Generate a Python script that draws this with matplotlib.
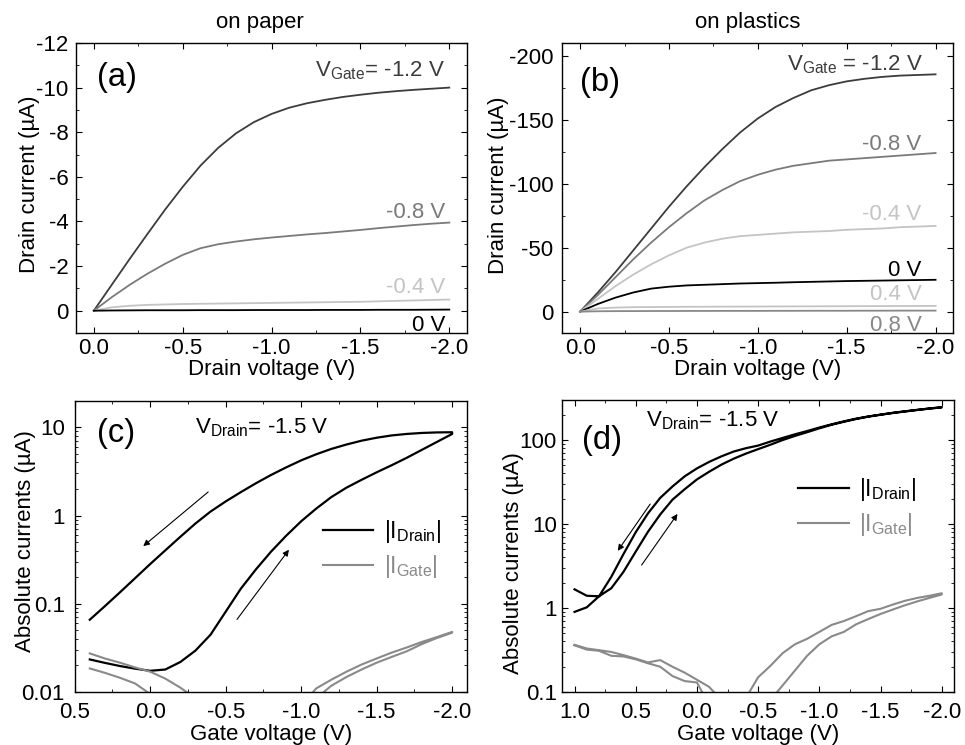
import matplotlib
matplotlib.use("Agg")
import matplotlib.pyplot as plt
from matplotlib.ticker import MultipleLocator, FormatStrFormatter, FuncFormatter, LogLocator

plt.rcParams.update({
    "font.family": ["Liberation Sans", "DejaVu Sans"],
    "mathtext.fontset": "custom",
    "mathtext.rm": "Liberation Sans",
    "mathtext.it": "Liberation Sans",
    "mathtext.default": "regular",
    "axes.unicode_minus": False,
    "axes.linewidth": 1.0,
    "xtick.direction": "in", "ytick.direction": "in",
    "xtick.top": True, "ytick.right": True,
    "xtick.major.size": 4, "ytick.major.size": 4,
    "xtick.minor.size": 2.2, "ytick.minor.size": 2.2,
    "xtick.labelsize": 16, "ytick.labelsize": 16,
    "axes.labelsize": 16,
})

# ---------------- output curves (a: paper, b: plastics) ----------------
v_drain = [0.0, -0.1, -0.2, -0.3, -0.4, -0.5, -0.6, -0.7, -0.8, -0.9, -1.0,
           -1.1, -1.2, -1.3, -1.4, -1.5, -1.6, -1.7, -1.8, -1.9, -2.0]

# panel (a), drain current in uA
ia_vg_m12 = [0, -1.15, -2.3, -3.42, -4.52, -5.55, -6.5, -7.3, -7.95, -8.45, -8.82,
             -9.1, -9.3, -9.45, -9.58, -9.68, -9.77, -9.84, -9.9, -9.95, -10.0]
ia_vg_m08 = [0, -0.6, -1.15, -1.65, -2.1, -2.5, -2.8, -2.98, -3.1, -3.2, -3.28,
             -3.35, -3.42, -3.48, -3.55, -3.62, -3.7, -3.77, -3.84, -3.9, -3.95]
ia_vg_m04 = [0, -0.15, -0.22, -0.26, -0.28, -0.3, -0.31, -0.32, -0.33, -0.34, -0.35,
             -0.36, -0.37, -0.38, -0.39, -0.4, -0.42, -0.44, -0.46, -0.48, -0.5]
ia_vg_0 = [0, -0.01, -0.015, -0.02, -0.02, -0.02, -0.025, -0.025, -0.025, -0.03, -0.03,
           -0.03, -0.03, -0.035, -0.035, -0.035, -0.04, -0.04, -0.04, -0.045, -0.05]

# panel (b)
ib_vg_m12 = [0, -15, -31, -48, -65, -82, -98, -113, -127, -140, -151,
             -160, -167, -173, -177, -180, -182, -183.5, -184.5, -185, -185.5]
ib_vg_m08 = [0, -13, -27, -41, -54, -66, -77, -87, -95, -102, -107,
             -111, -114, -116, -118, -119, -120, -121, -122, -123, -124]
ib_vg_m04 = [0, -10, -20, -29, -37, -44, -50, -54, -57, -59, -60,
             -61, -62, -62.5, -63, -64, -64.5, -65, -66, -66.5, -67]
ib_vg_0 = [0, -6, -11, -15, -18, -19.5, -20.5, -21, -21.5, -22, -22.3,
           -22.6, -23, -23.3, -23.6, -23.9, -24.1, -24.3, -24.5, -24.7, -24.9]
ib_vg_p04 = [0, -2.5, -3.2, -3.5, -3.6, -3.7, -3.8, -3.85, -3.9, -3.95, -4.0,
             -4.05, -4.1, -4.15, -4.2, -4.25, -4.3, -4.35, -4.4, -4.45, -4.5]
ib_vg_p08 = [0, -0.3, -0.4, -0.45, -0.5, -0.5, -0.55, -0.55, -0.6, -0.6, -0.6,
             -0.65, -0.65, -0.7, -0.7, -0.7, -0.75, -0.75, -0.8, -0.8, -0.8]

# ---------------- transfer curves (c: paper, d: plastics) ----------------
vg_c = [0.4, 0.3, 0.2, 0.1, 0.0, -0.1, -0.2, -0.3, -0.4, -0.5, -0.6, -0.7, -0.8,
        -0.9, -1.0, -1.1, -1.2, -1.3, -1.4, -1.5, -1.6, -1.7, -1.8, -1.9, -2.0]
id_c_fwd = [0.0234, 0.0214, 0.0197, 0.0184, 0.0174, 0.018, 0.0219, 0.0295, 0.0447,
            0.0813, 0.148, 0.245, 0.389, 0.589, 0.861, 1.2, 1.62, 2.07, 2.54, 3.09,
            3.72, 4.52, 5.56, 6.84, 8.41]
id_c_rev = [0.066, 0.094, 0.135, 0.195, 0.282, 0.403, 0.575, 0.813, 1.11, 1.445,
            1.84, 2.32, 2.88, 3.51, 4.22, 4.95, 5.69, 6.38, 7.05, 7.62, 8.09, 8.41,
            8.63, 8.75, 8.79]
ig_c_fwd = [0.0274, 0.024, 0.0215, 0.019, 0.017, 0.0142, 0.0112, 0.0085, 0.005,
            0.002, 0.0008, 0.0005, 0.0005, 0.002, 0.007, 0.011, 0.0138, 0.017,
            0.0205, 0.024, 0.028, 0.032, 0.037, 0.042, 0.048]
ig_c_rev = [0.0185, 0.0165, 0.0145, 0.0125, 0.0095, 0.005, 0.002, 0.0008, 0.0005,
            0.0005, 0.0005, 0.0005, 0.0005, 0.0008, 0.003, 0.0085, 0.0118, 0.0148,
            0.018, 0.0215, 0.025, 0.029, 0.035, 0.041, 0.047]

vg_d = [1.0, 0.9, 0.8, 0.7, 0.6, 0.5, 0.4, 0.3, 0.2, 0.1, 0.0, -0.1, -0.2, -0.3,
        -0.4, -0.5, -0.6, -0.7, -0.8, -0.9, -1.0, -1.1, -1.2, -1.3, -1.4, -1.5,
        -1.6, -1.7, -1.8, -1.9, -2.0]
id_d_fwd = [0.9, 1.02, 1.38, 1.72, 2.7, 4.7, 8.1, 13, 19.5, 26, 34, 42, 51, 60, 69,
            78, 88, 100, 112, 124, 138, 152, 165, 178, 190, 200, 210, 219, 228,
            237, 245]
id_d_rev = [1.67, 1.4, 1.38, 2.35, 4.4, 8.0, 13.4, 20.5, 28, 37, 46, 55, 64, 73, 80,
            86, 96, 106, 117, 128, 141, 154, 167, 180, 191, 201, 211, 220, 229,
            238, 246]
ig_d_fwd = [0.365, 0.33, 0.315, 0.3, 0.275, 0.25, 0.225, 0.24, 0.2, 0.17, 0.14,
            0.115, 0.08, 0.04, 0.085, 0.15, 0.205, 0.29, 0.37, 0.43, 0.52, 0.63,
            0.7, 0.8, 0.92, 0.98, 1.1, 1.22, 1.32, 1.4, 1.5]
ig_d_rev = [0.36, 0.32, 0.31, 0.27, 0.265, 0.245, 0.22, 0.2, 0.155, 0.135, 0.13,
            0.07, 0.03, 0.02, 0.02, 0.03, 0.08, 0.12, 0.18, 0.27, 0.37, 0.46, 0.52,
            0.64, 0.74, 0.85, 0.96, 1.08, 1.2, 1.32, 1.45]

C_M12, C_M08, C_M04, C_0 = "#3c3c3c", "#7a7a7a", "#c4c4c4", "black"
C_P04, C_P08, C_GATE = "#c4c4c4", "#888888", "#8a8a8a"

fig = plt.figure(figsize=(9.65, 7.45), dpi=100)
ax_a = fig.add_axes([0.0788, 0.553, 0.4052, 0.3893])
ax_b = fig.add_axes([0.5827, 0.553, 0.4052, 0.3893])
ax_c = fig.add_axes([0.0774, 0.0711, 0.4068, 0.391])
ax_d = fig.add_axes([0.5827, 0.0711, 0.4059, 0.392])


def style_lin(ax, ymaj, ymin, ypad):
    ax.xaxis.set_major_locator(MultipleLocator(0.5))
    ax.xaxis.set_minor_locator(MultipleLocator(0.25))
    ax.xaxis.set_major_formatter(FormatStrFormatter("%.1f"))
    ax.yaxis.set_major_locator(MultipleLocator(ymaj))
    ax.yaxis.set_minor_locator(MultipleLocator(ymin))
    ax.yaxis.set_major_formatter(FuncFormatter(lambda v, p: f"{v:g}"))
    ax.tick_params(which="both", top=True, right=True)
    ax.tick_params(axis="x", pad=3.5)
    ax.tick_params(axis="y", pad=ypad)


def style_log(ax, ypad):
    ax.set_yscale("log")
    ax.xaxis.set_major_locator(MultipleLocator(0.5))
    ax.xaxis.set_minor_locator(MultipleLocator(0.25))
    ax.xaxis.set_major_formatter(FormatStrFormatter("%.1f"))
    ax.yaxis.set_major_locator(LogLocator(base=10))
    ax.yaxis.set_minor_locator(LogLocator(base=10, subs=range(2, 10)))
    ax.yaxis.set_major_formatter(FuncFormatter(lambda v, p: f"{v:g}"))
    ax.tick_params(which="both", top=True, right=True)
    ax.tick_params(axis="x", pad=7)
    ax.tick_params(axis="y", pad=ypad)


lab_kw = dict(fontsize=16, ha="right", va="baseline")

# (a)
for y, c in [(ia_vg_m12, C_M12), (ia_vg_m08, C_M08), (ia_vg_m04, C_M04), (ia_vg_0, C_0)]:
    ax_a.plot(v_drain, y, color=c, lw=1.3)
ax_a.set_xlim(0.1, -2.1)
ax_a.set_ylim(1, -12)
style_lin(ax_a, 2, 1, 5.5)
ax_a.set_xlabel("Drain voltage (V)", labelpad=0)
ax_a.set_ylabel("Drain current (\u00b5A)")
ax_a.yaxis.set_label_coords(-0.093, 0.514)
ax_a.set_title("on paper", fontsize=16, x=0.47, pad=10.5)
ax_a.text(0.053, 0.85, "(a)", transform=ax_a.transAxes, fontsize=23.5, va="baseline")
ax_a.text(0.944, 0.886, "V$_{Gate}$= -1.2 V", transform=ax_a.transAxes, color=C_M12, **lab_kw)
ax_a.text(0.944, 0.395, "-0.8 V", transform=ax_a.transAxes, color=C_M08, **lab_kw)
ax_a.text(0.944, 0.137, "-0.4 V", transform=ax_a.transAxes, color=C_M04, **lab_kw)
ax_a.text(0.944, 0.006, "0 V", transform=ax_a.transAxes, color=C_0, **lab_kw)

# (b)
for y, c in [(ib_vg_m12, C_M12), (ib_vg_m08, C_M08), (ib_vg_m04, C_M04),
             (ib_vg_0, C_0), (ib_vg_p04, C_P04), (ib_vg_p08, C_P08)]:
    ax_b.plot(v_drain, y, color=c, lw=1.3)
ax_b.set_xlim(0.1, -2.1)
ax_b.set_ylim(16.7, -210)
style_lin(ax_b, 50, 25, 6.5)
ax_b.set_xlabel("Drain voltage (V)", labelpad=0)
ax_b.set_ylabel("Drain current (\u00b5A)")
ax_b.yaxis.set_label_coords(-0.136, 0.51)
ax_b.set_title("on plastics", fontsize=16, x=0.475, pad=10.5)
ax_b.text(0.045, 0.834, "(b)", transform=ax_b.transAxes, fontsize=23.5, va="baseline")
ax_b.text(0.923, 0.907, "V$_{Gate}$ = -1.2 V", transform=ax_b.transAxes, color=C_M12, **lab_kw)
ax_b.text(0.919, 0.631, "-0.8 V", transform=ax_b.transAxes, color=C_M08, **lab_kw)
ax_b.text(0.919, 0.390, "-0.4 V", transform=ax_b.transAxes, color=C_M04, **lab_kw)
ax_b.text(0.919, 0.197, "0 V", transform=ax_b.transAxes, color=C_0, **lab_kw)
ax_b.text(0.919, 0.114, "0.4 V", transform=ax_b.transAxes, color=C_P04, **lab_kw)
ax_b.text(0.919, 0.006, "0.8 V", transform=ax_b.transAxes, color=C_P08, **lab_kw)

arrow_kw = dict(arrowstyle="-|>", lw=0.8, color="black", mutation_scale=9,
                shrinkA=0, shrinkB=0)


def transfer(ax, vg, i_fwd, i_rev, g_fwd, g_rev, ypad, label_xy):
    ax.plot(vg + vg[::-1], i_fwd + i_rev[::-1], color="black", lw=1.6, label="|I$_{Drain}$|")
    ax.plot(vg + vg[::-1], g_fwd + g_rev[::-1], color=C_GATE, lw=1.5, label="|I$_{Gate}$|")
    style_log(ax, ypad)
    ax.set_xlabel("Gate voltage (V)", labelpad=1)
    ax.set_ylabel("Absolute currents (\u00b5A)")
    ax.yaxis.set_label_coords(*label_xy)


# (c)
transfer(ax_c, vg_c, id_c_fwd, id_c_rev, ig_c_fwd, ig_c_rev, 7, (-0.099, 0.518))
ax_c.set_xlim(0.5, -2.1)
ax_c.set_ylim(0.01, 20)
ax_c.text(0.056, 0.857, "(c)", transform=ax_c.transAxes, fontsize=23.5, va="baseline")
ax_c.text(0.306, 0.888, "V$_{Drain}$= -1.5 V", transform=ax_c.transAxes, fontsize=16, va="baseline")
ax_c.annotate("", xy=(0.046, 0.45), xytext=(-0.384, 1.85), arrowprops=arrow_kw)
ax_c.annotate("", xy=(-0.919, 0.41), xytext=(-0.575, 0.0665), arrowprops=arrow_kw)
leg = ax_c.legend(loc="center left", bbox_to_anchor=(0.58, 0.49), frameon=False,
                  fontsize=16.5, handlelength=2.2, handletextpad=0.45, labelspacing=0.35)
leg.get_texts()[1].set_color(C_GATE)

# (d)
transfer(ax_d, vg_d, id_d_fwd, id_d_rev, ig_d_fwd, ig_d_rev, 4, (-0.098, 0.442))
ax_d.set_xlim(1.1, -2.1)
ax_d.set_ylim(0.1, 300)
ax_d.text(0.05, 0.831, "(d)", transform=ax_d.transAxes, fontsize=23.5, va="baseline")
ax_d.text(0.214, 0.909, "V$_{Drain}$= -1.5 V", transform=ax_d.transAxes, fontsize=16, va="baseline")
ax_d.annotate("", xy=(0.647, 4.8), xytext=(0.382, 17.3), arrowprops=arrow_kw)
ax_d.annotate("", xy=(0.159, 13.2), xytext=(0.452, 3.25), arrowprops=arrow_kw)
leg = ax_d.legend(loc="center left", bbox_to_anchor=(0.55, 0.635), frameon=False,
                  fontsize=16.5, handlelength=2.2, handletextpad=0.45, labelspacing=0.35)
leg.get_texts()[1].set_color(C_GATE)

fig.savefig("out.png", dpi=100)
